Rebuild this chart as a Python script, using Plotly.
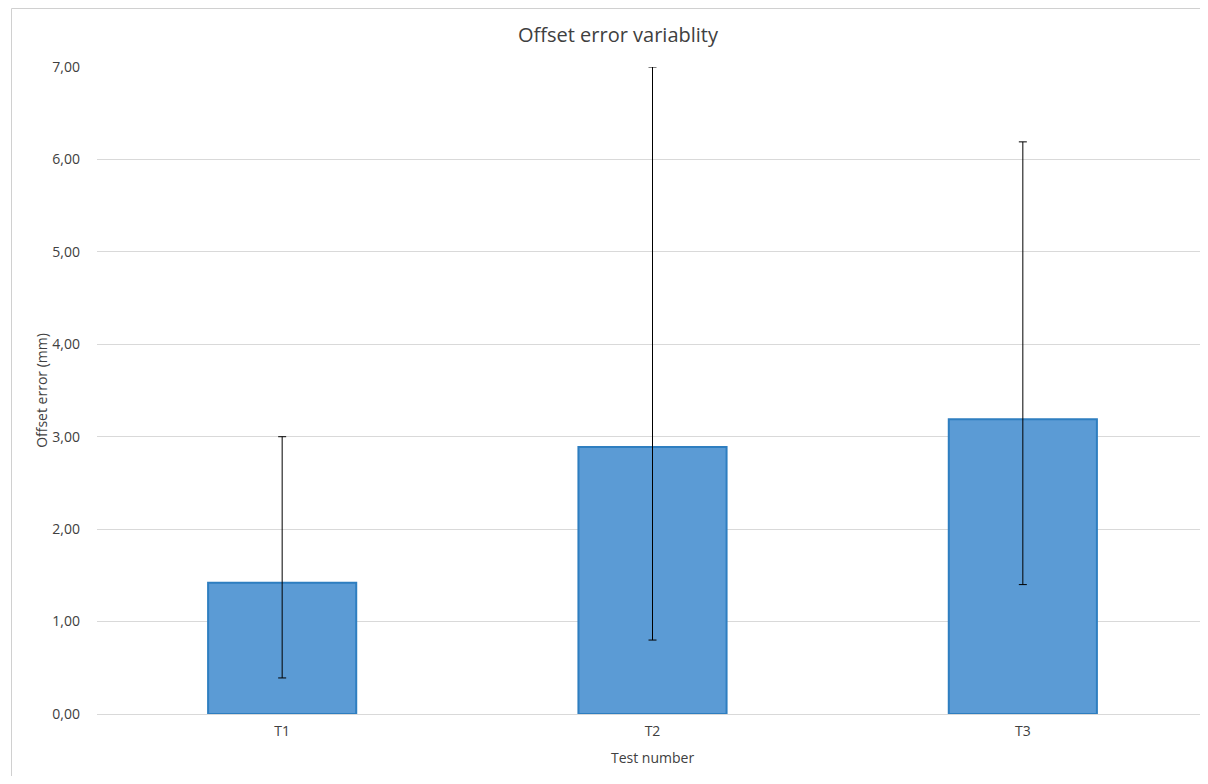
import plotly.graph_objects as go

categories = ["T1", "T2", "T3"]
mean_offset = [1.42, 2.89, 3.19]
upper_bound = [3.00, 7.00, 6.19]
lower_bound = [0.39, 0.80, 1.40]
y_ticks = [0, 1, 2, 3, 4, 5, 6, 7]

err_plus = [u - m for u, m in zip(upper_bound, mean_offset)]
err_minus = [m - l for m, l in zip(mean_offset, lower_bound)]

# page body has an 8px margin; compensate so window coordinates match the reference
OFF = 8
W, H = 1208 - 2 * OFF, 784 - 2 * OFF
L, T = 97 - OFF, 67 - OFF
R = 0
B = H - (714 - OFF)
pw, ph = W - L - R, H - T - B
cat_px = (1208 - 97) / 3.0          # reference pixels per category (chart is clipped on the right)
x_range = [-0.5, -0.5 + pw / cat_px]

def px_x(x):  # window x -> paper
    return (x - OFF - L) / pw

def px_y(y):  # window y -> paper
    return (H - B - (y - OFF)) / ph

fig = go.Figure()
fig.add_trace(go.Bar(
    x=categories, y=mean_offset, width=0.4,
    marker=dict(color="#5B9BD5", line=dict(color="#2E7EC0", width=2)),
    error_y=dict(type="data", symmetric=False, array=err_plus, arrayminus=err_minus,
                 color="#000000", thickness=1, width=4),
    showlegend=False,
))

font_family = "Open Sans, Lato, sans-serif"
txt = "#404040"
border = dict(color="#D0D0D0", width=1)
fig.update_layout(
    width=W, height=H,
    margin=dict(l=L, r=R, t=T, b=B, pad=0),
    paper_bgcolor="white", plot_bgcolor="white",
    separators=",.",
    font=dict(family=font_family, color=txt, size=14),
    xaxis=dict(range=x_range, showgrid=False, showline=True, linecolor="#D9D9D9", linewidth=1,
               ticks="", ticklabelstandoff=4, tickfont=dict(size=14, color=txt)),
    yaxis=dict(range=[0, 7], tickvals=y_ticks, tickformat=".2f",
               showgrid=True, gridcolor="#D9D9D9", gridwidth=1,
               zeroline=False, showline=False, ticks="",
               ticklabelstandoff=16,
               tickfont=dict(size=14, color=txt),
               title=dict(text="Offset error (mm)", font=dict(size=14, color=txt), standoff=1)),
    annotations=[
        dict(text="Offset error variablity", xref="paper", yref="paper",
             x=px_x(618), y=px_y(34), xanchor="center", yanchor="middle",
             showarrow=False, font=dict(size=20, color=txt, family=font_family)),
        dict(text="Test number", xref="paper", yref="paper",
             x=px_x(652), y=px_y(758), xanchor="center", yanchor="middle",
             showarrow=False, font=dict(size=14, color=txt, family=font_family)),
    ],
    shapes=[
        dict(type="line", xref="paper", yref="paper",
             x0=px_x(11.5), x1=px_x(11.5), y0=px_y(790), y1=px_y(8.5), line=border, layer="below"),
        dict(type="line", xref="paper", yref="paper",
             x0=px_x(11.5), x1=px_x(1210), y0=px_y(8.5), y1=px_y(8.5), line=border, layer="below"),
    ],
)

fig.write_html("out.html")
